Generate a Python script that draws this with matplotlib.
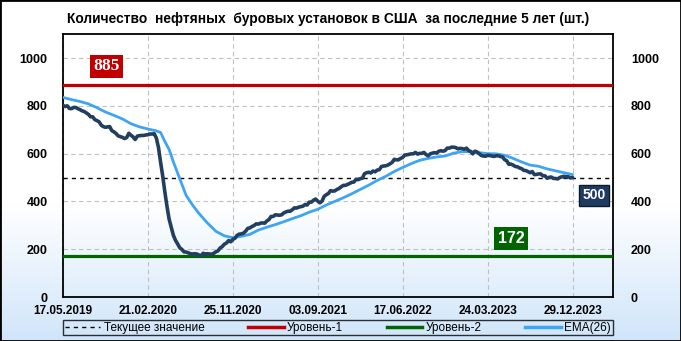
import numpy as np
import matplotlib
matplotlib.use("Agg")
from matplotlib import pyplot as plt
from matplotlib.lines import Line2D
from matplotlib.patches import Rectangle
from matplotlib.colors import LinearSegmentedColormap

plt.rcParams['font.family'] = ['Liberation Sans', 'DejaVu Sans']

# weekly oil rig count, 17.05.2019 .. 29.12.2023
rigs_2019 = [802, 797, 800, 789, 788, 793, 793, 788, 784, 779, 776, 770, 764, 754, 754, 742,
             738, 733, 719, 713, 710, 712, 713, 696, 691, 684, 674, 671, 668, 663, 667, 685, 677]
rigs_2020 = [670, 659, 673, 675, 676, 676, 678, 679, 682, 682, 683, 664, 624, 562, 504, 438,
             378, 325, 292, 258, 237, 222, 206, 199, 189, 188, 185, 181, 180, 181, 180, 176,
             172, 183, 180, 181, 180, 179, 183, 189, 193, 205, 211, 221, 226, 236, 231, 241,
             246, 258, 263, 264, 267]
rigs_2021 = [275, 287, 289, 295, 299, 306, 305, 309, 310, 309, 318, 324, 337, 337, 344, 343,
             342, 344, 352, 356, 359, 359, 365, 373, 372, 376, 378, 380, 387, 385, 397, 397,
             405, 410, 401, 394, 401, 421, 428, 433, 445, 443, 444, 450, 454, 461, 467, 467,
             471, 475, 480]
rigs_2022 = [481, 492, 491, 495, 497, 516, 520, 522, 519, 527, 524, 531, 533, 546, 548, 549,
             552, 557, 563, 576, 574, 574, 580, 584, 594, 595, 597, 599, 599, 605, 598, 601,
             601, 605, 596, 591, 599, 602, 604, 602, 610, 612, 610, 613, 623, 623, 627, 627,
             625, 620, 622, 621]
rigs_2023 = [618, 623, 613, 609, 599, 610, 607, 600, 592, 590, 589, 593, 592, 590, 588, 591,
             591, 588, 586, 575, 570, 555, 556, 552, 546, 545, 540, 537, 530, 529, 525, 520,
             525, 512, 513, 515, 515, 507, 507, 497, 501, 502, 496, 496, 494, 500, 503, 505,
             503, 503, 498, 500]
rigs = rigs_2019 + rigs_2020 + rigs_2021 + rigs_2022 + rigs_2023

# EMA(26)
ema_week = [0, 4, 8, 12, 16, 20, 24, 28, 32, 36, 40, 44, 46, 48, 50, 52, 55, 58, 61, 64, 68,
            72, 76, 80, 84, 88, 92, 96, 100, 104, 108, 112, 116, 120, 124, 128, 132, 136, 140,
            144, 148, 152, 156, 160, 164, 168, 172, 176, 180, 184, 188, 192, 196, 200, 204,
            208, 212, 216, 220, 224, 228, 232, 236, 240]
ema_val = [835, 826, 818, 808, 792, 774, 760, 745, 725, 712, 703, 695, 688, 650, 617, 565, 495,
           425, 385, 350, 310, 275, 256, 248, 254, 262, 280, 292, 303, 315, 328, 340, 355, 367,
           385, 400, 415, 432, 450, 468, 488, 505, 525, 542, 558, 572, 580, 586, 590, 602, 608,
           608, 604, 600, 599, 593, 580, 565, 552, 547, 536, 528, 520, 512]

level1 = 885
level2 = 172
current = 500

date_pos = [0, 40, 80, 120, 160, 200, 240]
date_labels = ['17.05.2019', '21.02.2020', '25.11.2020', '03.09.2021',
               '17.06.2022', '24.03.2023', '29.12.2023']

fig = plt.figure(figsize=(6.81, 3.41), dpi=100)

# background gradient white -> light blue
bg = fig.add_axes([0, 0, 1, 1], zorder=-10)
cmap = LinearSegmentedColormap.from_list('bg', [(0, '#ffffff'), (0.6, '#ffffff'), (1, '#d0e5fa')])
grad = np.linspace(0, 1, 256).reshape(-1, 1)
bg.imshow(grad, aspect='auto', cmap=cmap, extent=[0, 1, 0, 1], origin='upper')
bg.axis('off')

ax = fig.add_axes([0.0925, 0.129, 0.8075, 0.771])
ax.set_facecolor('none')
x = np.arange(len(rigs))

ax.axhline(level1, color='#c00000', lw=2.3, zorder=3)
ax.axhline(level2, color='#006400', lw=2.3, zorder=3)
ax.axhline(current, color='black', lw=1.0, ls=(0, (3, 3)), zorder=3)
ax.plot(ema_week, ema_val, color='#3ea4f5', lw=2.0, solid_capstyle='round', zorder=4)
ax.plot(x, rigs, color='#233f5f', lw=2.6, solid_capstyle='round', solid_joinstyle='round', zorder=5)

ax.set_xlim(0, 259)
ax.set_ylim(0, 1100)
ax.set_xticks(date_pos)
ax.set_xticklabels(date_labels, fontsize=8.5, fontweight='bold')
ax.set_yticks(range(0, 1001, 200))
ax.set_yticklabels([str(v) for v in range(0, 1001, 200)], fontsize=9, fontweight='bold')
ax.tick_params(axis='both', length=0)
ax.tick_params(axis='y', pad=11)
ax.tick_params(axis='x', pad=5.5)
ax.grid(True, color='#c0c0c0', ls=(0, (4, 3)), lw=0.8)
for s in ax.spines.values():
    s.set_color('black')
    s.set_linewidth(1.3)

ax2 = ax.twinx()
ax2.set_ylim(0, 1100)
ax2.set_yticks(range(0, 1001, 200))
ax2.set_yticklabels([str(v) for v in range(0, 1001, 200)], fontsize=9, fontweight='bold')
ax2.tick_params(axis='y', length=0, pad=13)
for s in ax2.spines.values():
    s.set_visible(False)

ax.text(20.5, 965, str(level1), color='white', fontsize=12.5, fontweight='bold',
        family='Liberation Serif', ha='center', va='center', zorder=6,
        bbox=dict(boxstyle='square,pad=0.2', fc='#c00000', ec='none'))
ax.text(211, 244, str(level2), color='white', fontsize=11.5, fontweight='bold',
        ha='center', va='center', zorder=6,
        bbox=dict(boxstyle='square,pad=0.25', fc='#006400', ec='none'))
ax.text(250, 425, str(current), color='white', fontsize=10, fontweight='bold',
        ha='center', va='center', zorder=6,
        bbox=dict(boxstyle='square,pad=0.25', fc='#1f3a5f', ec='#0d1a2b', lw=1))

fig.text(0.482, 0.944, 'Количество  нефтяных  буровых установок в США  за последние 5 лет (шт.)',
         ha='center', va='center', fontsize=9.9, fontweight='bold')

handles = [Line2D([], [], color='black', lw=1.0, ls=(0, (3, 3))),
           Line2D([], [], color='#c00000', lw=2.5),
           Line2D([], [], color='#006400', lw=2.5),
           Line2D([], [], color='#3ea4f5', lw=2.5)]
labels = ['Текущее значение', 'Уровень-1', 'Уровень-2', 'EMA(26)']
leg = ax.legend(handles, labels, loc='upper left', bbox_to_anchor=(0, -0.152, 1.0, 0.065),
                mode='expand', ncol=4, fontsize=8.5, frameon=True, fancybox=False,
                handlelength=3.0, handletextpad=0.3, borderpad=0.15, borderaxespad=0)
leg.get_frame().set_edgecolor('black')
leg.get_frame().set_linewidth(1.0)
leg.get_frame().set_facecolor('none')

fig.patches.append(Rectangle((0, 0), 1, 1, transform=fig.transFigure, fill=False,
                             edgecolor='black', lw=2))

fig.savefig('out.png', dpi=100)
